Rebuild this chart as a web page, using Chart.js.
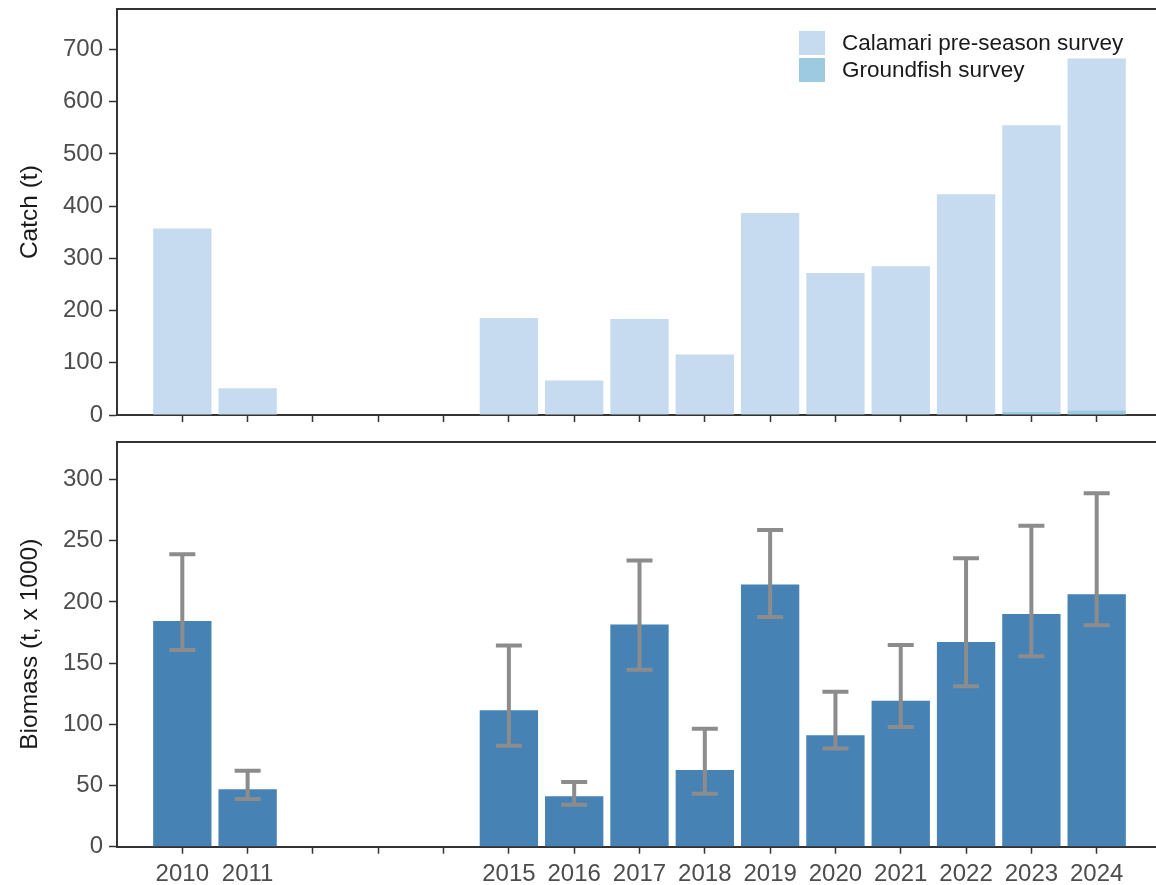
<!DOCTYPE html>
<html>
<head>
<meta charset="utf-8">
<title>Catch and biomass</title>
<script src="https://cdn.jsdelivr.net/npm/chart.js@4.4.1/dist/chart.umd.min.js"></script>
<style>
  html, body { margin: 0; padding: 0; background: #fff; overflow: hidden; }
  #wrap { position: relative; width: 1156px; height: 885px; overflow: hidden; }
  .panel { position: absolute; left: 0; width: 1162px; }
  #catchBox { top: 0; height: 440px; }
  #bioBox { top: 440px; height: 445px; }
  .legend { position: absolute; left: 799px; top: 29px; z-index: 2;
            font-family: "Liberation Sans", Arial, sans-serif; font-size: 22.5px; color: #1a1a1a; }
  .legend .row { display: flex; align-items: center; height: 27.5px; }
  .legend .sw { width: 26px; height: 24px; margin-right: 17px; flex: none; }
</style>
</head>
<body>
<div id="wrap">
  <div class="panel" id="catchBox"><canvas id="catchChart"></canvas></div>
  <div class="panel" id="bioBox"><canvas id="bioChart"></canvas></div>
  <div class="legend">
    <div class="row"><span class="sw" style="background:#c6dbef"></span><span>Calamari pre-season survey</span></div>
    <div class="row"><span class="sw" style="background:#9ecae1"></span><span>Groundfish survey</span></div>
  </div>
</div>
<script>
// Survey years with data, and every year that gets a tick on the x axis
const years = [2010, 2011, 2015, 2016, 2017, 2018, 2019, 2020, 2021, 2022, 2023, 2024];
const axisYears = [2010, 2011, 2012, 2013, 2014, 2015, 2016, 2017, 2018, 2019, 2020, 2021, 2022, 2023, 2024];

// Catch (t) by survey
const groundfishCatch = [0, 0, 0, 0, 3, 0, 2, 2, 2, 0, 6, 9];
const calamariCatch   = [357, 51, 186, 66, 181, 116, 385, 270, 283, 423, 549, 674];

// Biomass (t, x 1000) with lower / upper interval bounds
const biomass      = [184.4, 47, 111.5, 41.3, 181.7, 62.6, 214.3, 91, 119.2, 167.2, 190.2, 206.3];
const biomassLower = [160.7, 39, 82.5, 34.2, 144.6, 43.2, 187.7, 80.3, 97.9, 131.1, 155.7, 180.9];
const biomassUpper = [239, 62, 164.5, 52.8, 233.9, 96.5, 258.8, 126.6, 164.8, 235.8, 262.3, 288.9];

// Y axis tick settings
const catchMax = 777, catchStep = 100;
const bioMax = 331, bioStep = 50;

const FONT = '"Liberation Sans", Arial, sans-serif';
const AXIS = '#333333';

function points(vals) {
  return years.map((yr, i) => ({ x: yr, y: vals[i] }));
}

function xAxis(showLabels, height) {
  return {
    type: 'linear', position: 'bottom', min: 2009, max: 2025, offset: false,
    grid: { display: true, drawOnChartArea: false, drawTicks: true, tickLength: 7,
            tickWidth: 1.5, tickColor: AXIS, offset: false },
    border: { display: true, color: AXIS, width: 2 },
    ticks: {
      display: showLabels, padding: 6, color: '#4d4d4d', autoSkip: false, maxRotation: 0,
      font: { family: FONT, size: 24 },
      callback: (v) => years.includes(v) ? String(v) : ''
    },
    afterBuildTicks: (s) => { s.ticks = axisYears.map(v => ({ value: v })); },
    afterFit: (s) => { s.height = height; s.paddingLeft = 0; s.paddingRight = 0; }
  };
}

function frameAxis(height) {
  return {
    type: 'linear', position: 'top', min: 2009, max: 2025,
    grid: { display: false },
    border: { display: true, color: AXIS, width: 2 },
    ticks: { display: false },
    afterFit: (s) => { s.height = height; s.paddingLeft = 0; s.paddingRight = 0; }
  };
}

function yAxis(max, step, title, stacked) {
  return {
    type: 'linear', position: 'left', min: 0, max: max, stacked: stacked,
    grid: { drawOnChartArea: false, tickLength: 8, tickWidth: 1.5, tickColor: AXIS },
    border: { display: true, color: AXIS, width: 2 },
    ticks: { stepSize: step, includeBounds: false, padding: 6, color: '#4d4d4d',
             font: { family: FONT, size: 24 } },
    title: { display: true, text: title, color: '#1a1a1a',
             font: { family: FONT, size: 24.5 }, padding: { top: 16, bottom: 0 } },
    afterFit: (s) => { s.width = 117; s.paddingTop = 0; s.paddingBottom = 0; }
  };
}

const common = {
  responsive: true,
  maintainAspectRatio: false,
  animation: false,
  events: [],
  layout: { padding: 0 },
  plugins: { legend: { display: false }, tooltip: { enabled: false } }
};

// Upper panel: stacked catch bars
new Chart(document.getElementById('catchChart'), {
  type: 'bar',
  data: {
    datasets: [
      { label: 'Groundfish survey', data: points(groundfishCatch), backgroundColor: '#9ecae1',
        borderWidth: 0, barPercentage: 0.893, categoryPercentage: 1 },
      { label: 'Calamari pre-season survey', data: points(calamariCatch), backgroundColor: '#c6dbef',
        borderWidth: 0, barPercentage: 0.893, categoryPercentage: 1 }
    ]
  },
  options: Object.assign({}, common, {
    scales: {
      x: Object.assign(xAxis(false, 25), { stacked: true }),
      xTop: frameAxis(9.3),
      y: yAxis(catchMax, catchStep, 'Catch (t)', true)
    }
  })
});

// Interval whiskers for the biomass bars
const errorBars = {
  id: 'errorBars',
  afterDatasetsDraw(chart, args, opts) {
    const { ctx, scales: { x, y } } = chart;
    const half = opts.capWidth / 2;
    ctx.save();
    ctx.strokeStyle = opts.color;
    ctx.lineWidth = opts.lineWidth;
    ctx.lineCap = 'butt';
    years.forEach((yr, i) => {
      const px = x.getPixelForValue(yr);
      const top = y.getPixelForValue(biomassUpper[i]);
      const bot = y.getPixelForValue(biomassLower[i]);
      ctx.beginPath();
      ctx.moveTo(px, top); ctx.lineTo(px, bot);
      ctx.moveTo(px - half, top); ctx.lineTo(px + half, top);
      ctx.moveTo(px - half, bot); ctx.lineTo(px + half, bot);
      ctx.stroke();
    });
    ctx.restore();
  }
};

// Lower panel: biomass bars
new Chart(document.getElementById('bioChart'), {
  type: 'bar',
  data: {
    datasets: [
      { label: 'Biomass', data: points(biomass), backgroundColor: '#4682b4',
        borderWidth: 0, barPercentage: 0.893, categoryPercentage: 1 }
    ]
  },
  options: Object.assign({}, common, {
    plugins: Object.assign({}, common.plugins, {
      errorBars: { color: '#8c8c8c', lineWidth: 4, capWidth: 26 }
    }),
    scales: {
      x: xAxis(true, 38.3),
      xTop: frameAxis(1.7),
      y: yAxis(bioMax, bioStep, 'Biomass (t, x 1000)', false)
    }
  }),
  plugins: [errorBars]
});
</script>
</body>
</html>
